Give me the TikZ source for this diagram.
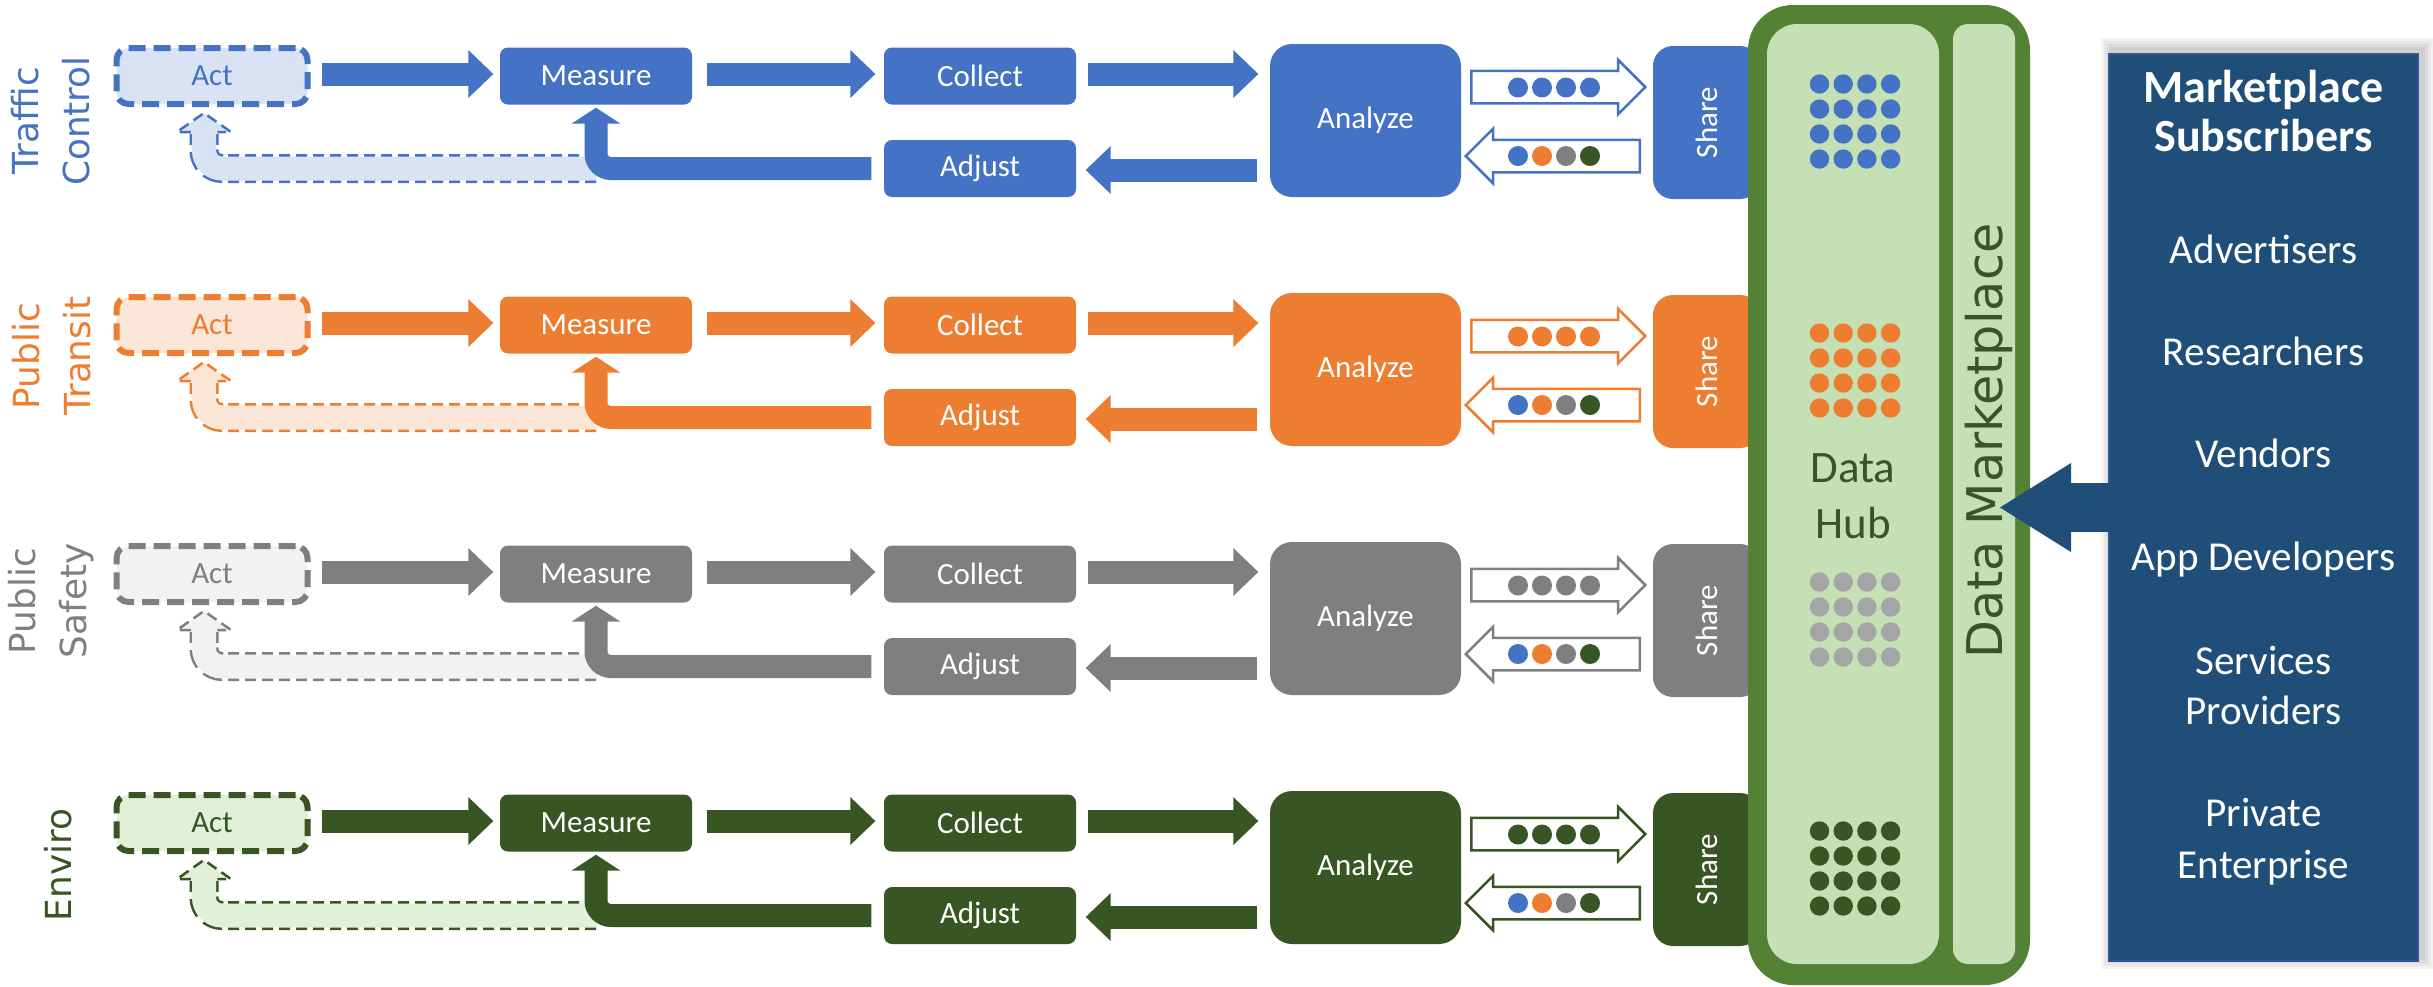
\documentclass[tikz,border=0pt]{standalone}
\usepackage{fontspec}
\setmainfont{Carlito}
\newfontfamily\dejavu{DejaVu Sans}
\usetikzlibrary{shapes.arrows,calc,positioning}
\definecolor{traffic}{HTML}{4472C4}
\definecolor{trafficlight}{HTML}{DAE3F3}
\definecolor{transit}{HTML}{ED7D31}
\definecolor{transitlight}{HTML}{FBE5D6}
\definecolor{safety}{HTML}{7F7F7F}
\definecolor{safetylight}{HTML}{F2F2F2}
\definecolor{safetydot}{HTML}{A5A5A5}
\definecolor{enviro}{HTML}{375623}
\definecolor{envirolight}{HTML}{E2F0D9}
\definecolor{hubgreen}{HTML}{548235}
\definecolor{hubfill}{HTML}{C5E0B4}
\definecolor{subblue}{HTML}{1F4E79}
\definecolor{subedge}{HTML}{2F5597}
\newcommand{\stepfont}{\fontsize{8.8pt}{10.5pt}\selectfont}
\newcommand{\rowlabelfont}{\dejavu\fontsize{10.2pt}{14.5pt}\selectfont}
\newcommand{\marketfont}{\dejavu\fontsize{14pt}{16pt}\selectfont}
\newcommand{\hubfont}{\fontsize{12.8pt}{15pt}\selectfont}
\newcommand{\subtitlefont}{\bfseries\fontsize{13.1pt}{14pt}\selectfont}
\newcommand{\subitemfont}{\fontsize{11.7pt}{14pt}\selectfont}
\newcommand{\blockedge}[6]{
  % #1 start, #2 tip, #3 colour, #4 head length, #5 half head width, #6 shaft width
  \coordinate (st) at (#1);
  \coordinate (tp) at (#2);
  \coordinate (hb) at ($(tp)!#4!(st)$);
  \draw[line width=#6, color=#3] (st) -- ($(hb)!-0.02cm!(st)$);
  \fill[#3] (tp) -- ($(hb)!#5!90:(tp)$) -- ($(hb)!#5!-90:(tp)$) -- cycle;
}
\newcommand{\bentedge}[3]{
  % #1 start, #2 tip (pointing up), #3 colour
  \coordinate (st) at (#1);
  \coordinate (tp) at (#2);
  \coordinate (hb) at ($(tp)+(0,0.16)$);
  \draw[line width=0.23cm, color=#3, rounded corners=0.15cm] (st) -| ($(hb)+(0,-0.02)$);
  \fill[#3] (tp) -- ($(hb)+(0.245,0)$) -- ($(hb)+(-0.245,0)$) -- cycle;
}
\newcommand{\fadededge}[4]{
  % #1 start, #2 tip (pointing up), #3 colour, #4 light colour
  \coordinate (st) at (#1);
  \coordinate (tp) at (#2);
  \coordinate (hb) at ($(tp)+(0,0.19)$);
  \draw[fadedrim=#3] (st) -| (hb);
  \draw[fadedcore=#4] (st) -| ($(hb)+(0,-0.02)$);
  \fill[#4] (tp) -- ($(hb)+(0.27,0)$) -- ($(hb)+(-0.27,0)$) -- cycle;
  \draw[#3, line width=0.025cm, dash pattern=on 0.11cm off 0.06cm] ($(hb)+(-0.1325,0)$) -- ($(hb)+(-0.27,0)$) -- (tp) -- ($(hb)+(0.27,0)$) -- ($(hb)+(0.1325,0)$);
}
\newcommand{\looprow}[4]{
  % #1 offset, #2 suffix, #3 colour, #4 light colour
  \draw (2.12,0.76+#1) node[actbox,draw=#3,fill=#4,text=#3] (A#2) {Act};
  \draw (5.96,0.76+#1) node[stepbox,fill=#3] (M#2) {Measure};
  \draw (9.80,0.76+#1) node[stepbox,fill=#3] (C#2) {Collect};
  \draw (9.80,1.685+#1) node[stepbox,fill=#3] (D#2) {Adjust};
  \draw (13.655,1.205+#1) node[analyzebox,fill=#3] (Z#2) {Analyze};
  \draw (17.065,1.225+#1) node[sharebox,fill=#3] (S#2) {\rotatebox{90}{Share}\hspace{0.33cm}};
  \draw (14.70,0.87+#1) node[sharearrow=#3,anchor=tail] (R#2) {};
  \draw (16.41,1.56+#1) node[sharearrow=#3,shape border rotate=180,anchor=tail] (L#2) {};
  \foreach \k in {0,...,3} \fill[#3] (15.18+0.24*\k,0.875+#1) circle (0.1);
  \foreach \k/\dotcol in {0/traffic,1/transit,2/safety,3/enviro} \fill[\dotcol] (15.18+0.24*\k,1.56+#1) circle (0.1);
  \fadededge{M#2.south |- D#2.west}{$(A#2.south)+(-0.08,0.06)$}{#3}{#4}
  \bentedge{$(D#2.west)+(-0.12,0)$}{$(M#2.south)+(0,0.025)$}{#3}
  \blockedge{$(A#2.east)+(0.11,-0.02)$}{$(M#2.west)+(-0.06,-0.02)$}{#3}{0.25cm}{0.24cm}{0.23cm}
  \blockedge{$(M#2.east)+(0.14,-0.02)$}{$(C#2.west)+(-0.08,-0.02)$}{#3}{0.25cm}{0.24cm}{0.23cm}
  \blockedge{$(C#2.east)+(0.11,-0.02)$}{$(Z#2.west |- C#2.east)+(-0.11,-0.02)$}{#3}{0.25cm}{0.24cm}{0.23cm}
  \blockedge{$(Z#2.west |- D#2.east)+(-0.12,0.015)$}{$(D#2.east)+(0.09,0.015)$}{#3}{0.25cm}{0.24cm}{0.23cm}
}
\tikzstyle{stepbox}=[rectangle, rounded corners=0.08cm, minimum width=1.92cm, minimum height=0.57cm, inner sep=0pt, text=white, font=\stepfont]
\tikzstyle{actbox}=[rectangle, rounded corners=0.12cm, minimum width=1.91cm, minimum height=0.56cm, inner sep=0pt, line width=0.06cm, dash pattern=on 0.17cm off 0.08cm, font=\stepfont]
\tikzstyle{analyzebox}=[stepbox, rounded corners=0.22cm, minimum width=1.91cm, minimum height=1.53cm]
\tikzstyle{sharebox}=[stepbox, rounded corners=0.2cm, minimum width=1.07cm, minimum height=1.53cm]
\tikzstyle{rowlabel}=[font=\rowlabelfont, align=center, rotate=90, inner sep=0pt]
\tikzstyle{hubframe}=[rectangle, rounded corners=0.45cm, fill=hubgreen, minimum width=2.82cm, minimum height=9.80cm, inner sep=0pt]
\tikzstyle{hubpanel}=[rectangle, fill=hubfill, minimum height=9.40cm, inner sep=0pt]
\tikzstyle{subbox}=[rectangle, fill=subblue, draw=subedge, line width=0.02cm, minimum width=3.09cm, minimum height=9.07cm, inner sep=0pt]
\tikzstyle{subitem}=[font=\subitemfont, text=white, anchor=base, inner sep=0pt]
\tikzset{fadedrim/.style={line width=0.29cm, color=#1, dash pattern=on 0.11cm off 0.06cm, rounded corners=0.18cm}}
\tikzset{fadedcore/.style={line width=0.24cm, color=#1, rounded corners=0.18cm}}
\tikzset{sharearrow/.style={single arrow, draw=#1, fill=white, line width=0.025cm, minimum height=1.74cm, minimum width=0.52cm, single arrow head extend=0.11cm, inner sep=0pt, text height=0.15cm, text depth=0.15cm}}
\tikzset{y=-1cm}
\tikzset{x=1cm}
\begin{document}
\begin{tikzpicture}
  \useasboundingbox (0,0) rectangle (24.33,9.86);

  %% Process loops
  \looprow{0}{1}{traffic}{trafficlight}
  \looprow{2.49}{2}{transit}{transitlight}
  \looprow{4.98}{3}{safety}{safetylight}
  \looprow{7.47}{4}{enviro}{envirolight}

  %% Row names
  \draw (0.51,1.21) node[rowlabel,text=traffic] (N1) {Traffic\\Control};
  \draw (0.515,3.56) node[rowlabel,text=transit] (N2) {Public\\Transit};
  \draw (0.515,6.01) node[rowlabel,text=safety] (N3) {Public\\Safety};
  \draw (0.585,8.65) node[rowlabel,text=enviro] (N4) {Enviro};

  %% Data hub
  \draw (18.89,4.95) node[hubframe] (Frame) {};
  \draw (18.53,4.94) node[hubpanel,minimum width=1.72cm,rounded corners=0.3cm] (Hub) {};
  \draw (19.84,4.94) node[hubpanel,minimum width=0.62cm,rounded corners=0.15cm] (MP) {};
  \foreach \r/\dotcol in {0/traffic,1/transit,2/safetydot,3/enviro}
    \foreach \i in {0,...,3}
      \foreach \j in {0,...,3}
        \fill[\dotcol] (18.195+0.237*\i,0.84+0.25*\j+2.49*\r) circle (0.097);
  \draw (18.53,4.82) node[font=\hubfont,text=enviro,anchor=base,inner sep=0pt] (HubData) {Data};
  \draw (18.53,5.38) node[font=\hubfont,text=enviro,anchor=base,inner sep=0pt] (HubHub) {Hub};
  \draw (19.89,4.41) node[font=\marketfont,text=enviro,rotate=90,inner sep=0pt] (MPtext) {Data Marketplace};

  %% Subscribers
  \foreach \s in {1,...,4}
    \fill[black,opacity=0.05] (21.13-0.03*\s,0.50-0.03*\s) rectangle (24.22+0.03*\s,9.57+0.03*\s);
  \draw (22.635,5.075) node[subbox] (Subs) {};
  \coordinate (MPtip) at (20.00,5.075);
  \blockedge{$(Subs.west |- MPtip)+(0.03,0)$}{MPtip}{subblue}{0.71cm}{0.445cm}{0.49cm}
  \draw (22.635,1.02) node[subitem,font=\subtitlefont] (SubT1) {Marketplace};
  \draw (22.635,1.51) node[subitem,font=\subtitlefont] (SubT2) {Subscribers};
  \draw (22.635,2.63) node[subitem] (Sub1) {Advertisers};
  \draw (22.635,3.65) node[subitem] (Sub2) {Researchers};
  \draw (22.635,4.67) node[subitem] (Sub3) {Vendors};
  \draw (22.635,5.70) node[subitem] (Sub4) {App Developers};
  \draw (22.635,6.74) node[subitem] (Sub5a) {Services};
  \draw (22.635,7.24) node[subitem] (Sub5b) {Providers};
  \draw (22.635,8.26) node[subitem] (Sub6a) {Private};
  \draw (22.635,8.78) node[subitem] (Sub6b) {Enterprise};
\end{tikzpicture}
\end{document}
